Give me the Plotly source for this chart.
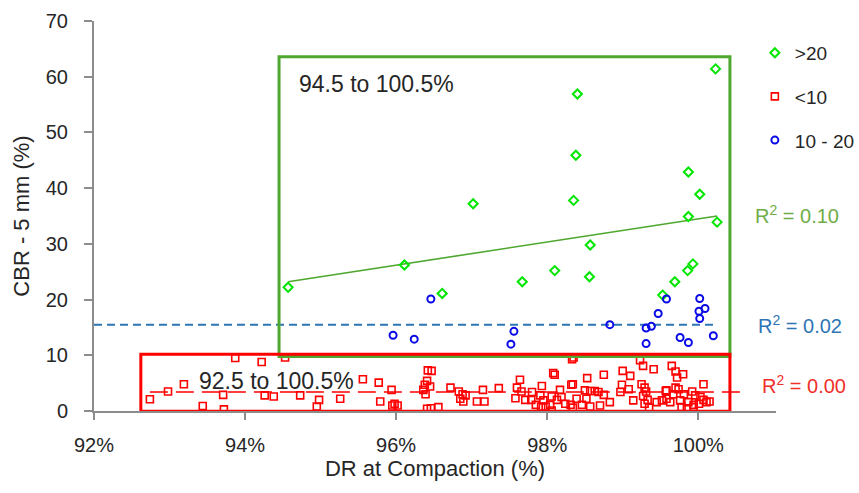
import plotly.graph_objects as go

# ---- data -------------------------------------------------------------
# CBR > 20
green_dr = [100.23, 98.40, 98.38, 99.87, 100.02, 97.02, 98.35, 99.87, 100.25,
            94.57, 96.11, 96.61, 97.67, 98.10, 98.57, 98.56, 99.69, 99.86,
            99.93, 99.53]
green_cbr = [61.4, 56.9, 45.9, 42.9, 38.9, 37.2, 37.8, 34.9, 33.9,
             22.2, 26.2, 21.1, 23.2, 25.2, 29.8, 24.1, 23.2, 25.2,
             26.4, 20.8]

# CBR 10 - 20
blue_dr = [96.46, 95.96, 96.24, 97.56, 97.52, 98.83, 99.31, 99.38, 99.31,
           99.47, 99.58, 99.76, 99.87, 100.02, 100.01, 100.09, 100.02, 100.20]
blue_cbr = [20.1, 13.6, 12.9, 14.3, 12.0, 15.5, 14.9, 15.2, 12.1,
            17.5, 20.1, 13.2, 12.3, 20.2, 17.9, 18.4, 16.6, 13.5]

# CBR < 10
red_dr = [92.74, 92.98, 93.19, 93.44, 93.71, 93.72, 93.87, 94.22, 94.26, 94.38,
          94.53, 94.73, 94.98, 94.95, 95.26, 95.56, 95.77, 95.94, 95.79, 95.98,
          95.95, 96.02, 96.36, 96.38, 96.42, 96.39, 96.41, 96.47, 96.45, 96.41,
          96.46, 96.56, 96.72, 96.83, 96.88, 96.85, 96.92, 96.89, 97.07, 97.17,
          97.15, 97.36, 97.64, 97.60, 97.66, 97.58, 97.71, 97.80, 97.79, 97.85,
          97.93, 97.91, 97.95, 98.04, 98.08, 98.10, 98.06, 98.13, 98.06, 98.17,
          98.19, 98.24, 98.31, 98.32, 98.33, 97.92, 97.98, 98.35, 99.23, 99.27,
          99.41, 99.00, 99.10, 98.75, 98.53, 98.34, 98.99, 98.50, 98.57, 98.63,
          98.68, 98.75, 98.39, 98.52, 98.46, 98.57, 98.70, 98.83, 98.97, 99.08,
          99.14, 99.25, 99.29, 99.31, 99.27, 99.33, 99.29, 99.35, 99.45, 99.52,
          99.58, 98.34, 99.65, 99.70, 99.80, 99.72, 100.07, 99.57, 99.70, 99.74,
          99.67, 99.81, 99.92, 99.96, 100.03, 100.07, 100.15, 99.58, 99.63, 99.76,
          99.87, 99.94, 100.01, 99.78, 99.85, 99.94, 100.11]
red_cbr = [2.1, 3.5, 4.8, 0.9, 2.9, 0.3, 9.5, 8.8, 2.8, 2.6,
           9.6, 2.8, 2.0, 0.8, 2.2, 5.7, 5.1, 3.8, 1.7, 1.3,
           1.0, 1.0, 3.8, 4.7, 7.3, 3.0, 0.4, 7.2, 4.4, 5.4,
           0.5, 0.7, 4.2, 3.5, 3.0, 2.2, 2.8, 1.7, 1.7, 1.7,
           3.8, 4.1, 5.6, 4.2, 3.5, 2.3, 2.0, 3.4, 2.0, 1.1,
           4.5, 2.8, 1.9, 1.1, 6.8, 6.5, 2.6, 2.0, 0.1, 3.8,
           2.5, 1.3, 1.1, 4.7, 9.3, 0.8, 0.8, 9.6, 9.1, 8.1,
           7.5, 7.2, 6.3, 6.5, 5.9, 4.8, 4.7, 3.7, 3.6, 3.6,
           3.4, 2.9, 2.2, 2.2, 1.1, 0.8, 1.0, 1.6, 3.4, 3.9,
           1.9, 4.8, 4.2, 3.5, 2.7, 2.0, 1.3, 0.6, 1.6, 1.9,
           3.7, 0.6, 8.1, 7.1, 6.6, 6.0, 4.8, 3.6, 4.2, 3.9,
           3.0, 3.0, 3.5, 2.8, 2.5, 2.0, 1.7, 2.2, 1.6, 1.9,
           1.6, 1.1, 1.3, 0.7, 0.5, 0.7, 1.6]

# linear trend lines (end points) and their R² values
green_trend_dr, green_trend_cbr = [94.57, 100.25], [23.2, 35.0]
blue_trend_dr, blue_trend_cbr = [92.0, 100.2], [15.5, 15.5]
red_trend_dr, red_trend_cbr = [92.74, 100.56], [3.4, 3.4]
r2_labels = ["R<sup>2</sup> = 0.10", "R<sup>2</sup> = 0.02", "R<sup>2</sup> = 0.00"]

# compaction ranges highlighted by boxes
green_range = (94.45, 100.42, 9.8, 63.6)
red_range = (92.62, 100.42, -0.05, 10.2)

x_ticks = [92, 94, 96, 98, 100]
x_tick_labels = ["92%", "94%", "96%", "98%", "100%"]
y_ticks = [0, 10, 20, 30, 40, 50, 60, 70]
y_tick_labels = ["0", "10", "20", "30", "40", "50", "60", "70"]

# ---- styling ----------------------------------------------------------
GREEN_PT = "#00E600"
GREEN_LN = "#4EA72E"
BLUE_PT = "#0A0AE6"
BLUE_LN = "#2E75B6"
RED = "#FF0000"
TEXT = "#262626"
AXIS = "#8C8C8C"
FONT = "Liberation Sans, Arial, sans-serif"

fig = go.Figure()

# trend lines
fig.add_trace(go.Scatter(x=green_trend_dr, y=green_trend_cbr, mode="lines",
                         line=dict(color=GREEN_LN, width=1.6),
                         showlegend=False, hoverinfo="skip"))
fig.add_trace(go.Scatter(x=blue_trend_dr, y=blue_trend_cbr, mode="lines",
                         line=dict(color=BLUE_LN, width=2, dash="8px,5px"),
                         showlegend=False, hoverinfo="skip"))
fig.add_trace(go.Scatter(x=red_trend_dr, y=red_trend_cbr, mode="lines",
                         line=dict(color=RED, width=1.6, dash="18px,8px"),
                         showlegend=False, hoverinfo="skip"))

# data points
fig.add_trace(go.Scatter(x=green_dr, y=green_cbr, mode="markers", name=">20",
                         legendgroup="g1",
                         marker=dict(symbol="diamond-open", size=7, color=GREEN_PT,
                                     line=dict(width=2, color=GREEN_PT))))
fig.add_trace(go.Scatter(x=red_dr, y=red_cbr, mode="markers", name="<10",
                         legendgroup="g2",
                         marker=dict(symbol="square-open", size=7, color=RED,
                                     line=dict(width=1.6, color=RED))))
fig.add_trace(go.Scatter(x=blue_dr, y=blue_cbr, mode="markers", name="10 - 20",
                         legendgroup="g3",
                         marker=dict(symbol="circle-open", size=7, color=BLUE_PT,
                                     line=dict(width=2, color=BLUE_PT))))

# range boxes
for (x0, x1, y0, y1), col in ((green_range, GREEN_LN), (red_range, RED)):
    fig.add_shape(type="rect", xref="x", yref="y", x0=x0, x1=x1, y0=y0, y1=y1,
                  line=dict(color=col, width=3), fillcolor="rgba(0,0,0,0)",
                  layer="above")

annotations = [
    dict(x=94.69, y=58.7, xref="x", yref="y", text="94.5 to 100.5%",
         showarrow=False, xanchor="left", yanchor="middle",
         font=dict(size=23, color=TEXT, family=FONT)),
    dict(x=93.36, y=5.4, xref="x", yref="y", text="92.5 to 100.5%",
         showarrow=False, xanchor="left", yanchor="middle",
         font=dict(size=23, color=TEXT, family=FONT)),
]
for txt, yp, col, xp in zip(r2_labels, [0.503, 0.221, 0.068],
                            ["#70AD47", BLUE_LN, "#F0302A"],
                            [1.031, 1.035, 1.041]):
    annotations.append(dict(x=xp, y=yp, xref="paper", yref="paper", text=txt,
                            showarrow=False, xanchor="center", yanchor="middle",
                            font=dict(size=20, color=col, family=FONT)))

fig.update_layout(
    width=859, height=493,
    margin=dict(l=94, r=83, t=21, b=82, autoexpand=False),
    paper_bgcolor="white", plot_bgcolor="white",
    font=dict(family=FONT, color=TEXT, size=20),
    annotations=annotations,
    legend=dict(x=0.969, y=0.967, xanchor="left", yanchor="top",
                traceorder="grouped", tracegroupgap=16,
                font=dict(size=19, color=TEXT, family=FONT),
                bgcolor="rgba(0,0,0,0)"),
    xaxis=dict(range=[92, 101.03], tickmode="array", tickvals=x_ticks,
               ticktext=x_tick_labels, automargin=False,
               showgrid=False, zeroline=False, showline=True,
               linecolor=AXIS, linewidth=2, ticks="outside", ticklen=7,
               tickcolor=AXIS, tickwidth=2, ticklabelstandoff=8,
               tickfont=dict(size=20, color=TEXT, family=FONT),
               title=dict(text="DR at Compaction (%)", standoff=3,
                          font=dict(size=22, color=TEXT, family=FONT))),
    yaxis=dict(range=[0, 70], tickmode="array", tickvals=y_ticks,
               ticktext=y_tick_labels, automargin=False,
               showgrid=False, zeroline=False, showline=True,
               linecolor=AXIS, linewidth=2, ticks="outside", ticklen=8,
               tickcolor=AXIS, tickwidth=2, ticklabelstandoff=12,
               tickfont=dict(size=20, color=TEXT, family=FONT),
               title=dict(text="CBR - 5 mm (%)", standoff=10,
                          font=dict(size=22, color=TEXT, family=FONT))),
)

fig.write_html("out.html")
